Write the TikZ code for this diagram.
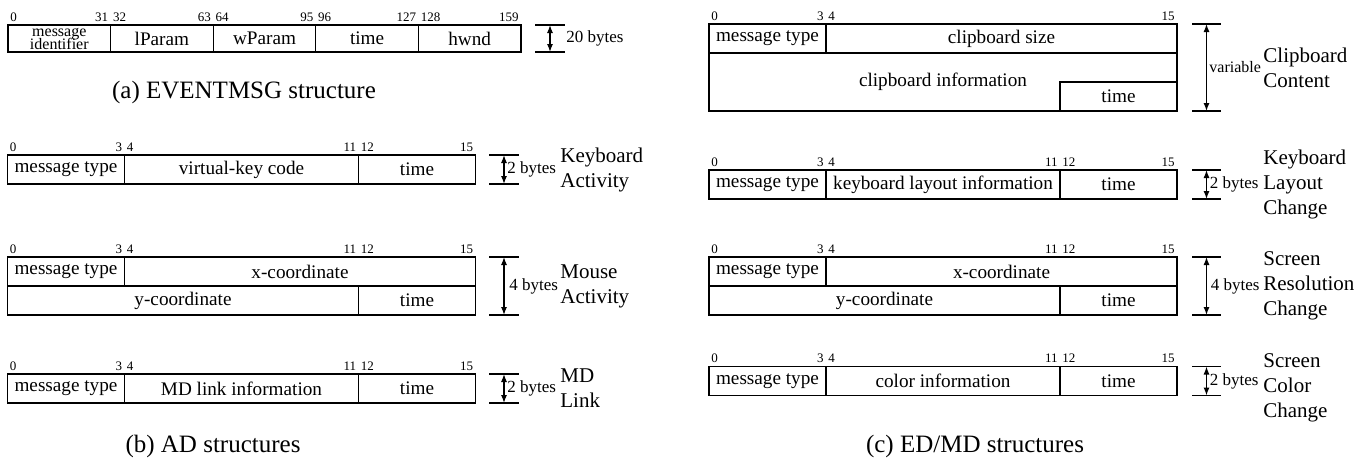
\documentclass[tikz,border=0pt]{standalone}
\usepackage{fontspec}
\setmainfont{Liberation Serif}
\usetikzlibrary{arrows.meta}

\begin{document}
\begin{tikzpicture}[x=0.5pt, y=-0.5pt,
   cell/.style={rectangle, draw, line width=0.6pt, inner sep=0pt, minimum height=14.5pt, font=\fontsize{9.6}{11}\selectfont},
   bitl/.style={anchor=south west, inner sep=1pt, yshift=0.6pt, font=\fontsize{6.5}{7}\selectfont},
   bitr/.style={anchor=south east, inner sep=1pt, yshift=0.6pt, font=\fontsize{6.5}{7}\selectfont},
   tick/.style={line width=0.6pt},
   size/.style={{Latex[length=4pt,width=3pt]}-{Latex[length=4pt,width=3pt]}, line width=0.6pt},
   bytes/.style={anchor=west, inner sep=0pt, font=\fontsize{8.5}{9}\selectfont},
   kind/.style={anchor=west, align=left, inner sep=0pt, font=\fontsize{10.5}{12.5}\selectfont},
   caption/.style={font=\fontsize{12.5}{14}\selectfont}]
   \useasboundingbox (0,0) rectangle (1365,462);

	% (a) EVENTMSG
	\node[cell, minimum width=51.3pt, minimum height=13.5pt] (mid) at (59.3,38.5) {};
	\node[align=center, inner sep=0pt, font={\fontsize{8}{6.5}\selectfont\lineskiplimit-20pt\relax}] (midtxt) at (mid) {message\\identifier};
	\node[cell, minimum width=51.3pt, minimum height=13.5pt] (lp) at (161.9,38.5) {lParam};
	\node[cell, minimum width=51.3pt, minimum height=13.5pt] (wp) at (264.5,38.5) {wParam};
	\node[cell, minimum width=51.3pt, minimum height=13.5pt] (etm) at (367.1,38.5) {time};
	\node[cell, minimum width=51.3pt, minimum height=13.5pt] (hw) at (469.7,38.5) {hwnd};
	\node[bitl] (e0) at (8,25) {0};
	\node[bitr] (e31) at (110.6,25) {31};
	\node[bitl] (e32) at (110.6,25) {32};
	\node[bitr] (e63) at (213.2,25) {63};
	\node[bitl] (e64) at (213.2,25) {64};
	\node[bitr] (e95) at (315.8,25) {95};
	\node[bitl] (e96) at (315.8,25) {96};
	\node[bitr] (e127) at (418.4,25) {127};
	\node[bitl] (e128) at (418.4,25) {128};
	\node[bitr] (e159) at (521,25) {159};
	\coordinate (et) at (550,25);
	\coordinate (eb) at (550,52);
	\draw[tick] ([xshift=-7.5pt]et) -- ([xshift=7.5pt]et);
	\draw[tick] ([xshift=-7.5pt]eb) -- ([xshift=7.5pt]eb);
	\draw[size] (et) -- (eb);
	\node[bytes] (eby) at (566,38.5) {20 bytes};
	\node[caption] (capa) at (244,92) {(a) EVENTMSG structure};

	% (b) AD: keyboard
	\node[cell, minimum width=58.5pt] (kmt) at (66,169.5) {message type};
	\node[cell, minimum width=117pt] (kvk) at (241.5,169.5) {virtual-key code};
	\node[cell, minimum width=58.5pt] (ktm) at (417,169.5) {time};
	\node[bitl] (k0) at (7.5,155) {0};
	\node[bitr] (k3) at (124.5,155) {3};
	\node[bitl] (k4) at (124.5,155) {4};
	\node[bitr] (k11) at (358.5,155) {11};
	\node[bitl] (k12) at (358.5,155) {12};
	\node[bitr] (k15) at (475.5,155) {15};
	\coordinate (kt) at (504,155);
	\coordinate (kb) at (504,184);
	\draw[tick] ([xshift=-7.5pt]kt) -- ([xshift=7.5pt]kt);
	\draw[tick] ([xshift=-7.5pt]kb) -- ([xshift=7.5pt]kb);
	\draw[size] (kt) -- (kb);
	\node[bytes] (kby) at (507,169.5) {2 bytes};
	\node[kind] (kka) at (560,169.5) {Keyboard\\Activity};

	% (b) AD: mouse
	\node[cell, minimum width=58.5pt] (mmt) at (66,271.5) {message type};
	\node[cell, minimum width=175.5pt] (mxc) at (300,271.5) {x-coordinate};
	\node[cell, minimum width=175.5pt] (myc) at (183,300.5) {y-coordinate};
	\node[cell, minimum width=58.5pt] (mtm) at (417,300.5) {time};
	\node[bitl] (m0) at (7.5,257) {0};
	\node[bitr] (m3) at (124.5,257) {3};
	\node[bitl] (m4) at (124.5,257) {4};
	\node[bitr] (m11) at (358.5,257) {11};
	\node[bitl] (m12) at (358.5,257) {12};
	\node[bitr] (m15) at (475.5,257) {15};
	\coordinate (mt) at (504,257);
	\coordinate (mb) at (504,315);
	\draw[tick] ([xshift=-7.5pt]mt) -- ([xshift=7.5pt]mt);
	\draw[tick] ([xshift=-7.5pt]mb) -- ([xshift=7.5pt]mb);
	\draw[size] (mt) -- (mb);
	\node[bytes] (mby) at (509,286) {4 bytes};
	\node[kind] (mma) at (560,286) {Mouse\\Activity};

	% (b) AD: MD link
	\node[cell, minimum width=58.5pt] (lmt) at (66,388.5) {message type};
	\node[cell, minimum width=117pt] (lli) at (241.5,388.5) {MD link information};
	\node[cell, minimum width=58.5pt] (ltm) at (417,388.5) {time};
	\node[bitl] (l0) at (7.5,374) {0};
	\node[bitr] (l3) at (124.5,374) {3};
	\node[bitl] (l4) at (124.5,374) {4};
	\node[bitr] (l11) at (358.5,374) {11};
	\node[bitl] (l12) at (358.5,374) {12};
	\node[bitr] (l15) at (475.5,374) {15};
	\coordinate (lt) at (504,374);
	\coordinate (lb) at (504,403);
	\draw[tick] ([xshift=-7.5pt]lt) -- ([xshift=7.5pt]lt);
	\draw[tick] ([xshift=-7.5pt]lb) -- ([xshift=7.5pt]lb);
	\draw[size] (lt) -- (lb);
	\node[bytes] (lby) at (507,388.5) {2 bytes};
	\node[kind] (lml) at (560,388.5) {MD\\Link};
	\node[caption] (capb) at (213,446) {(b) AD structures};

	% (c) ED/MD: clipboard
	\node[cell, minimum width=58.5pt] (cmt) at (767.5,38.5) {message type};
	\node[cell, minimum width=175.5pt] (csz) at (1001.5,38.5) {clipboard size};
	\node[cell, minimum width=234pt, minimum height=29pt] (cin) at (943,82) {clipboard information};
	\node[cell, minimum width=58.5pt] (ctm) at (1118.5,96.5) {time};
	\node[bitl] (c0) at (709,24) {0};
	\node[bitr] (c3) at (826,24) {3};
	\node[bitl] (c4) at (826,24) {4};
	\node[bitr] (c15) at (1177,24) {15};
	\coordinate (ct) at (1206.5,24);
	\coordinate (cb) at (1206.5,111);
	\draw[tick] ([xshift=-7.25pt]ct) -- ([xshift=7.25pt]ct);
	\draw[tick] ([xshift=-7.25pt]cb) -- ([xshift=7.25pt]cb);
	\draw[size] (ct) -- (cb);
	\node[bytes, font=\fontsize{8}{9}\selectfont] (cby) at (1209,67.5) {variable};
	\node[kind] (ccc) at (1263,67.5) {Clipboard\\Content};

	% (c) ED/MD: keyboard layout
	\node[cell, minimum width=58.5pt] (ymt) at (767.5,184.5) {message type};
	\node[cell, minimum width=117pt] (yli) at (943,184.5) {keyboard layout information};
	\node[cell, minimum width=58.5pt] (ytm) at (1118.5,184.5) {time};
	\node[bitl] (y0) at (709,170) {0};
	\node[bitr] (y3) at (826,170) {3};
	\node[bitl] (y4) at (826,170) {4};
	\node[bitr] (y11) at (1060,170) {11};
	\node[bitl] (y12) at (1060,170) {12};
	\node[bitr] (y15) at (1177,170) {15};
	\coordinate (yt) at (1206.5,170);
	\coordinate (yb) at (1206.5,199);
	\draw[tick] ([xshift=-7.25pt]yt) -- ([xshift=7.25pt]yt);
	\draw[tick] ([xshift=-7.25pt]yb) -- ([xshift=7.25pt]yb);
	\draw[size] (yt) -- (yb);
	\node[bytes] (yby) at (1209.5,184.5) {2 bytes};
	\node[kind] (ykl) at (1263,184.5) {Keyboard\\Layout\\Change};

	% (c) ED/MD: screen resolution
	\node[cell, minimum width=58.5pt] (rmt) at (767.5,271.5) {message type};
	\node[cell, minimum width=175.5pt] (rxc) at (1001.5,271.5) {x-coordinate};
	\node[cell, minimum width=175.5pt] (ryc) at (884.5,300.5) {y-coordinate};
	\node[cell, minimum width=58.5pt] (rtm) at (1118.5,300.5) {time};
	\node[bitl] (r0) at (709,257) {0};
	\node[bitr] (r3) at (826,257) {3};
	\node[bitl] (r4) at (826,257) {4};
	\node[bitr] (r11) at (1060,257) {11};
	\node[bitl] (r12) at (1060,257) {12};
	\node[bitr] (r15) at (1177,257) {15};
	\coordinate (rt) at (1206.5,257);
	\coordinate (rb) at (1206.5,315);
	\draw[tick] ([xshift=-7.25pt]rt) -- ([xshift=7.25pt]rt);
	\draw[tick] ([xshift=-7.25pt]rb) -- ([xshift=7.25pt]rb);
	\draw[size] (rt) -- (rb);
	\node[bytes] (rby) at (1210.5,286) {4 bytes};
	\node[kind] (rsr) at (1263,286) {Screen\\Resolution\\Change};

	% (c) ED/MD: screen color
	\node[cell, minimum width=58.5pt] (omt) at (767.5,381) {message type};
	\node[cell, minimum width=117pt] (oci) at (943,381) {color information};
	\node[cell, minimum width=58.5pt] (otm) at (1118.5,381) {time};
	\node[bitl] (o0) at (709,366.5) {0};
	\node[bitr] (o3) at (826,366.5) {3};
	\node[bitl] (o4) at (826,366.5) {4};
	\node[bitr] (o11) at (1060,366.5) {11};
	\node[bitl] (o12) at (1060,366.5) {12};
	\node[bitr] (o15) at (1177,366.5) {15};
	\coordinate (ot) at (1206.5,366.5);
	\coordinate (ob) at (1206.5,395.5);
	\draw[tick] ([xshift=-7.25pt]ot) -- ([xshift=7.25pt]ot);
	\draw[tick] ([xshift=-7.25pt]ob) -- ([xshift=7.25pt]ob);
	\draw[size] (ot) -- (ob);
	\node[bytes] (oby) at (1209.5,381) {2 bytes};
	\node[kind] (osc) at (1263,388) {Screen\\Color\\Change};
	\node[caption] (capc) at (975,446) {(c) ED/MD structures};
\end{tikzpicture}
\end{document}
